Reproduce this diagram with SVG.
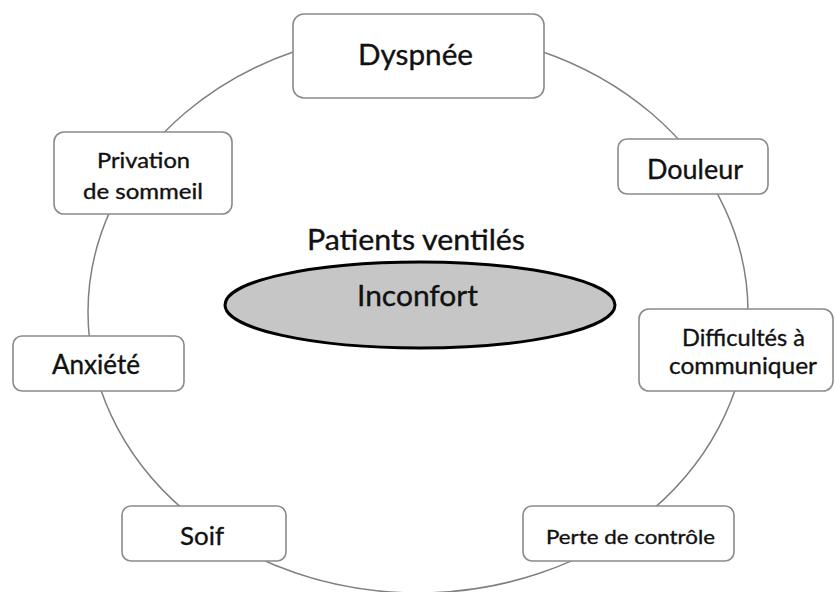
<svg xmlns="http://www.w3.org/2000/svg" width="835" height="592" viewBox="0 0 835 592">
<style>
.box{fill:#fff;stroke:#8a8a8a;stroke-width:1.6}
.ring{fill:none;stroke:#808080;stroke-width:1.5}
text{font-family:Lato,"Open Sans","Liberation Sans",sans-serif;fill:#111;stroke:#111;stroke-width:0.35;text-anchor:middle}
</style>
<rect width="835" height="592" fill="#fff"/>
<g id="connectors">
<ellipse class="ring" cx="418" cy="312" rx="330" ry="281"/>
</g>
<g id="center">
<text x="416" y="250" font-size="28" textLength="218" lengthAdjust="spacingAndGlyphs">Patients ventilés</text>
<ellipse cx="420" cy="305" rx="195" ry="43" fill="#c6c6c6" stroke="#000" stroke-width="3"/>
<text x="417.5" y="306" font-size="29" textLength="121" lengthAdjust="spacingAndGlyphs">Inconfort</text>
</g>
<g id="dyspnee">
<rect class="box" x="293" y="14" width="251" height="84" rx="11"/>
<text x="415.5" y="65" font-size="28" textLength="115" lengthAdjust="spacingAndGlyphs">Dyspnée</text>
</g>
<g id="privation">
<rect class="box" x="54" y="132" width="178" height="82" rx="10"/>
<text x="143.5" y="168" font-size="21" textLength="93" lengthAdjust="spacingAndGlyphs">Privation</text>
<text x="143" y="199" font-size="21" textLength="120" lengthAdjust="spacingAndGlyphs">de sommeil</text>
</g>
<g id="douleur">
<rect class="box" x="618" y="139" width="150" height="55" rx="9"/>
<text x="695" y="179" font-size="26" textLength="96" lengthAdjust="spacingAndGlyphs">Douleur</text>
</g>
<g id="anxiete">
<rect class="box" x="13" y="336" width="171" height="55" rx="9"/>
<text x="96" y="374" font-size="26" textLength="88" lengthAdjust="spacingAndGlyphs">Anxiété</text>
</g>
<g id="difficultes">
<rect class="box" x="639" y="309" width="194" height="82" rx="10"/>
<text x="743.5" y="346" font-size="24" textLength="123" lengthAdjust="spacingAndGlyphs">Difficultés à</text>
<text x="743" y="374" font-size="24" textLength="148" lengthAdjust="spacingAndGlyphs">communiquer</text>
</g>
<g id="soif">
<rect class="box" x="122" y="506" width="164" height="55" rx="9"/>
<text x="202" y="545" font-size="25" textLength="44" lengthAdjust="spacingAndGlyphs">Soif</text>
</g>
<g id="perte">
<rect class="box" x="523" y="506" width="211" height="55" rx="9"/>
<text x="630.5" y="544" font-size="20" textLength="169" lengthAdjust="spacingAndGlyphs">Perte de contrôle</text>
</g>
</svg>
